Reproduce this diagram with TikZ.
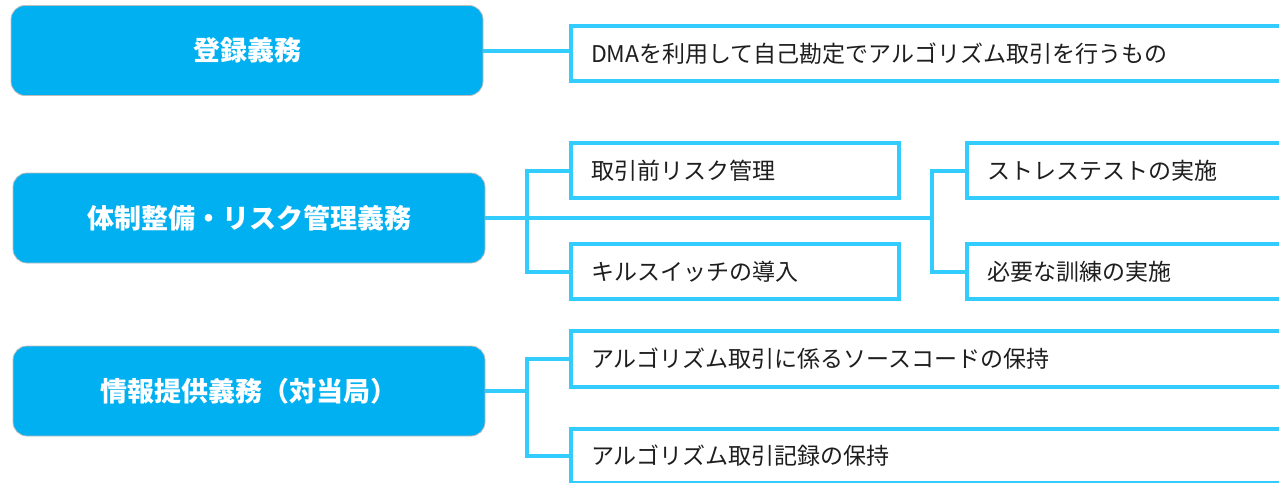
\documentclass[tikz,border=0pt]{standalone}
\usepackage{fontspec}
\setmainfont{Noto Sans CJK JP}
\definecolor{lbfill}{RGB}{0,176,240}
\definecolor{lbedge}{RGB}{190,190,190}
\definecolor{rline}{RGB}{51,204,255}
\definecolor{rtext}{RGB}{30,30,30}
\tikzset{
  leftbox/.style={draw=lbedge, line width=0.8pt, fill=lbfill, rounded corners=14pt,
    minimum width=472pt, minimum height=90pt, text=white,
    font=\fontsize{27}{32}\selectfont\bfseries},
  rightbox/.style={draw=rline, line width=4pt, fill=white, anchor=north west,
    minimum height=55pt, inner xsep=20pt, inner ysep=0pt, align=left,
    text=rtext, font=\fontsize{23}{27}\selectfont},
  conn/.style={draw=rline, line width=4pt}
}
\begin{document}
\begin{tikzpicture}[x=1pt,y=-1pt]
\useasboundingbox (0,0) rectangle (1279,482);
\clip (0,0) rectangle (1279,482);
% left boxes
\node[leftbox] (L1) at (247,50.5) {登録義務};
\node[leftbox] (L2) at (249,218) {体制整備・リスク管理義務};
\node[leftbox] (L3) at (249,391) {情報提供義務（対当局）};
% right boxes
\node[rightbox, text width=700pt, minimum height=55.5pt] (R1) at (569,23.5) {DMAを利用して自己勘定でアルゴリズム取引を行うもの};
\node[rightbox, text width=288pt] (R2a) at (569,141) {取引前リスク管理};
\node[rightbox, text width=288pt] (R2b) at (569,242) {キルスイッチの導入};
\node[rightbox, text width=340pt] (R2c) at (965,141) {ストレステストの実施};
\node[rightbox, text width=340pt] (R2d) at (965,242) {必要な訓練の実施};
\node[rightbox, text width=700pt, minimum height=56pt] (R3a) at (569,329) {アルゴリズム取引に係るソースコードの保持};
\node[rightbox, text width=700pt, minimum height=54pt] (R3b) at (569,427) {アルゴリズム取引記録の保持};
% connectors
\coordinate (b1) at (527,218);
\coordinate (b2) at (932,218);
\coordinate (b3) at (527,391);
\draw[conn] (L1.east) -- (R1.west |- L1.east);
\draw[conn] (L2.east) -- (b2);
\draw[conn] (R2a.west) -| (b1) |- (R2b.west);
\draw[conn] (R2c.west) -| (b2) |- (R2d.west);
\draw[conn] (L3.east) -- (b3);
\draw[conn] (R3a.west) -| (b3) |- (R3b.west);
\end{tikzpicture}
\end{document}
